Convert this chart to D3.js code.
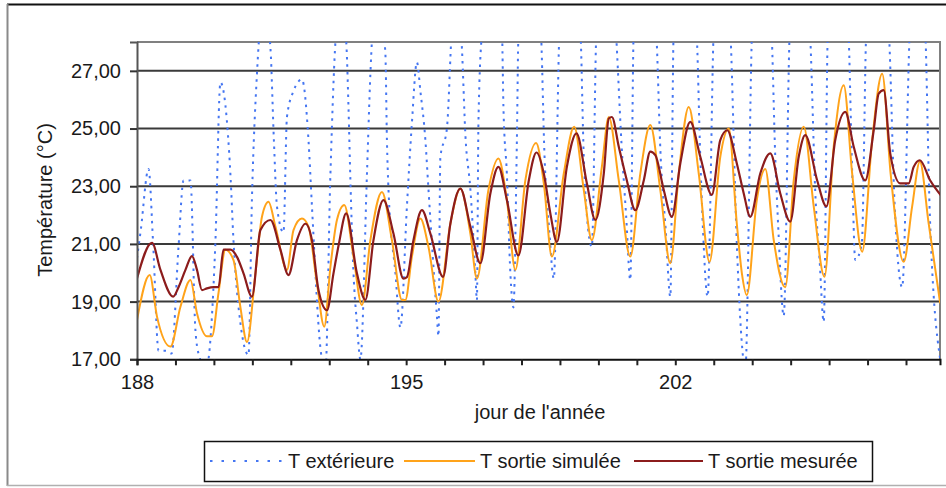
<!DOCTYPE html>
<html>
<head>
<meta charset="utf-8">
<script src="https://cdn.jsdelivr.net/npm/d3@7"></script>
<style>
  body { margin: 0; background: #fff; }
  svg text { font-family: "Liberation Sans", Arial, sans-serif; fill: #1a1a1a; }
</style>
</head>
<body>
<svg id="chart" width="946" height="488"></svg>
<script>
// tick labels
let yTicks = [17, 19, 21, 23, 25, 27];
let xLabels = [188, 195, 202];
let seriesNames = ["T extérieure", "T sortie simulée", "T sortie mesurée"];

// T extérieure (values outside 17..28 are clipped)
let extDays = [188.00, 188.10, 188.30, 188.42, 188.56, 188.75, 188.90, 189.08, 189.21, 189.39,
  189.52, 189.62, 189.80, 190.04, 190.17, 190.30, 190.43, 190.51, 190.69, 190.90,
  190.99, 191.12, 191.30, 191.47, 191.56, 191.64, 191.81, 191.90, 192.07, 192.29,
  192.46, 192.55, 192.77, 192.90, 193.03, 193.20, 193.35, 193.45, 193.50, 193.55,
  193.63, 193.72, 193.81, 193.98, 194.07, 194.25, 194.46, 194.50, 194.54, 194.72,
  194.85, 195.02, 195.15, 195.28, 195.37, 195.50, 195.58, 195.80, 195.84, 195.89,
  196.06, 196.19, 196.32, 196.45, 196.54, 196.67, 196.80, 196.84, 196.88, 196.97,
  197.25, 197.49, 197.53, 197.62, 197.71, 197.79, 197.88, 197.92, 198.20, 198.50,
  198.60, 198.72, 198.84, 198.99, 199.25, 199.53, 199.62, 199.70, 199.83, 199.95,
  200.20, 200.45, 200.60, 200.72, 200.83, 200.92, 201.20, 201.50, 201.62, 201.75,
  201.87, 201.96, 202.25, 202.55, 202.65, 202.72, 202.84, 203.00, 203.20, 203.43,
  203.60, 203.74, 203.82, 204.00, 204.25, 204.50, 204.60, 204.68, 204.82, 204.98,
  205.25, 205.50, 205.65, 205.75, 205.86, 205.97, 206.25, 206.50, 206.60, 206.68,
  206.85, 206.97, 207.25, 207.55, 207.70, 207.90, 208.10, 208.30, 208.50, 208.62,
  208.89];
let extTemps = [20.5, 21.5, 23.6, 21.0, 17.3, 17.3, 17.2, 20.9, 23.2, 23.2,
  18.0, 17.1, 16.7, 21.1, 26.6, 25.8, 23.4, 21.1, 18.25, 17.15,
  22.6, 26.9, 29.5, 27.8, 24.6, 22.3, 21.4, 25.4, 26.3, 26.7,
  24.6, 22.3, 17.4, 16.6, 23.4, 28.6, 29.2, 27.8, 25.75, 23.2,
  20.0, 18.25, 17.0, 23.4, 26.9, 30.0, 27.6, 24.6, 22.9, 20.0,
  18.1, 22.3, 25.2, 27.3, 26.3, 24.6, 22.9, 18.5, 17.8, 24.0,
  25.0, 28.5, 30.0, 27.8, 24.8, 22.9, 20.0, 19.05, 25.2, 28.3,
  31.0, 28.5, 25.75, 23.4, 20.0, 18.8, 24.6, 28.2, 31.5, 28.5,
  24.0, 21.5, 19.8, 28.5, 32.0, 28.5, 24.0, 22.0, 20.9, 28.5,
  32.0, 28.5, 24.5, 22.0, 19.75, 28.5, 32.0, 28.5, 24.0, 21.5,
  19.17, 28.5, 32.0, 28.5, 24.0, 21.5, 19.17, 28.5, 32.0, 28.5,
  21.0, 17.4, 16.6, 28.5, 32.0, 28.5, 24.0, 21.5, 18.5, 28.5,
  32.0, 28.5, 22.5, 20.5, 18.3, 28.5, 32.0, 28.5, 23.5, 20.44,
  21.0, 28.5, 32.0, 28.5, 22.5, 19.5, 28.5, 32.0, 28.5, 22.0,
  17.0];

// T sortie simulée
let simDays = [188.00, 188.33, 188.52, 188.87, 189.13, 189.39, 189.56, 189.82, 189.95, 190.12,
  190.30, 190.51, 190.69, 190.86, 191.08, 191.25, 191.42, 191.60, 191.90, 192.07,
  192.29, 192.46, 192.68, 192.87, 193.03, 193.20, 193.39, 193.63, 193.85, 194.07,
  194.37, 194.63, 194.89, 194.98, 195.15, 195.37, 195.58, 195.84, 196.15, 196.41,
  196.67, 196.84, 197.14, 197.40, 197.62, 197.84, 198.10, 198.38, 198.58, 198.79,
  199.10, 199.37, 199.62, 199.83, 200.09, 200.27, 200.53, 200.83, 201.09, 201.35,
  201.61, 201.87, 202.09, 202.35, 202.61, 202.89, 203.17, 203.39, 203.60, 203.73,
  203.86, 204.12, 204.34, 204.56, 204.86, 205.08, 205.34, 205.60, 205.88, 206.12,
  206.38, 206.60, 206.86, 207.12, 207.38, 207.60, 207.94, 208.16, 208.36, 208.59,
  208.89];
let simTemps = [18.36, 19.92, 18.48, 17.44, 18.82, 19.75, 18.6, 17.8, 17.8, 19.3,
  20.8, 20.44, 18.8, 17.6, 19.98, 21.94, 22.46, 21.6, 20.1, 21.48,
  21.88, 21.6, 19.63, 18.13, 20.2, 21.83, 22.35, 20.56, 18.88, 21.13,
  22.8, 21.13, 19.06, 19.06, 20.56, 21.88, 20.9, 19.0, 21.7, 22.92,
  21.36, 19.8, 22.87, 23.96, 22.52, 20.1, 23.2, 24.5, 23.1, 20.56,
  23.44, 25.06, 22.87, 21.13, 23.67, 25.4, 23.2, 20.56, 23.44, 25.12,
  22.87, 20.33, 23.44, 25.75, 23.44, 20.38, 24.02, 25.0, 21.7, 20.0,
  19.23, 22.52, 23.6, 21.13, 19.5, 23.2, 25.06, 22.3, 19.86, 24.37,
  26.5, 23.44, 20.73, 24.6, 26.9, 23.44, 20.38, 22.3, 23.85, 21.7,
  18.94];

// T sortie mesurée
let mesDays = [188.00, 188.39, 188.61, 188.94, 189.08, 189.26, 189.43, 189.56, 189.69, 189.82,
  189.99, 190.12, 190.25, 190.43, 190.60, 190.77, 190.99, 191.21, 191.47, 191.73,
  191.94, 192.16, 192.38, 192.55, 192.72, 192.94, 193.11, 193.25, 193.44, 193.72,
  193.94, 194.15, 194.41, 194.67, 194.93, 195.02, 195.19, 195.41, 195.63, 195.96,
  196.15, 196.41, 196.67, 196.93, 197.19, 197.40, 197.62, 197.92, 198.19, 198.39,
  198.58, 198.75, 198.92, 199.18, 199.43, 199.70, 199.92, 200.14, 200.27, 200.35,
  200.53, 200.74, 200.96, 201.18, 201.35, 201.48, 201.70, 201.91, 202.13, 202.39,
  202.65, 202.95, 203.17, 203.35, 203.60, 203.78, 203.95, 204.21, 204.47, 204.73,
  204.99, 205.21, 205.38, 205.69, 205.93, 206.16, 206.42, 206.64, 206.94, 207.16,
  207.29, 207.42, 207.59, 207.85, 208.07, 208.20, 208.36, 208.63, 208.94];
let mesTemps = [19.8, 21.04, 20.1, 19.17, 19.5, 20.1, 20.58, 20.1, 19.4, 19.46,
  19.5, 19.5, 20.8, 20.8, 20.55, 19.98, 19.17, 21.48, 21.83, 20.8,
  19.92, 21.13, 21.7, 21.13, 19.4, 18.7, 19.98, 21.0, 22.06, 19.98,
  19.06, 21.13, 22.52, 21.36, 19.8, 19.85, 21.13, 22.17, 21.36, 19.86,
  21.7, 22.92, 21.6, 20.33, 22.75, 23.67, 22.52, 20.6, 23.2, 24.17,
  23.44, 22.06, 21.07, 23.67, 24.83, 23.1, 21.83, 23.44, 25.35, 25.4,
  24.37, 23.2, 22.17, 23.2, 24.2, 24.08, 22.87, 21.94, 23.79, 25.23,
  24.02, 22.7, 24.6, 24.94, 23.79, 22.75, 21.94, 23.44, 24.14, 22.75,
  21.77, 24.02, 24.77, 23.2, 22.3, 24.6, 25.58, 24.37, 23.2, 24.94,
  26.21, 26.33, 24.14, 23.1, 23.1, 23.67, 23.9, 23.2, 22.63];

let colors = ["#4576f2", "#ffa31a", "#8c1c1c"];

let plotLeft = 137, plotRight = 940, plotTop = 42, plotBottom = 359.3;
let fontSize = 20;

let x = d3.scaleLinear()
    .domain([188, 188 + (plotRight - plotLeft) / 38.45])
    .range([plotLeft, plotRight]);

let y = d3.scaleLinear()
    .domain([17, 28])
    .range([plotBottom, plotTop]);

let svg = d3.select("#chart");

// outer frame of the chart object
svg.append("line").attr("x1", 7).attr("x2", 946).attr("y1", 4.5).attr("y2", 4.5)
    .attr("stroke", "#111").attr("stroke-width", 2);
svg.append("line").attr("x1", 7.5).attr("x2", 7.5).attr("y1", 4).attr("y2", 486)
    .attr("stroke", "#8a8a8a").attr("stroke-width", 2);
svg.append("line").attr("x1", 7).attr("x2", 946).attr("y1", 485.5).attr("y2", 485.5)
    .attr("stroke", "#b0b0b0").attr("stroke-width", 1.5);

// horizontal grid
svg.append("g")
  .selectAll("line")
  .data(yTicks.filter((d) => d > 17))
  .enter().append("line")
    .attr("x1", plotLeft).attr("x2", plotRight)
    .attr("y1", (d) => y(d)).attr("y2", (d) => y(d))
    .attr("stroke", "#3a3a3a")
    .attr("stroke-width", 2);

// plot border (top / right)
svg.append("path")
    .attr("d", `M${plotLeft},${plotTop}H${plotRight}V${plotBottom}`)
    .attr("fill", "none")
    .attr("stroke", "#808080")
    .attr("stroke-width", 2);

svg.append("clipPath").attr("id", "clip")
  .append("rect")
    .attr("x", plotLeft).attr("y", plotTop)
    .attr("width", plotRight - plotLeft).attr("height", plotBottom - plotTop);

let line = d3.line()
    .x((d) => x(d[0]))
    .y((d) => y(d[1]))
    .curve(d3.curveMonotoneX);

let series = [
  { days: extDays, temps: extTemps, dash: "2.5,5", width: 2 },
  { days: simDays, temps: simTemps, dash: null, width: 2 },
  { days: mesDays, temps: mesTemps, dash: null, width: 2.2 }
];

let lines = svg.append("g").attr("clip-path", "url(#clip)");

series.forEach((s, i) => {
  lines.append("path")
      .datum(d3.zip(s.days, s.temps))
      .attr("d", line)
      .attr("fill", "none")
      .attr("stroke", colors[i])
      .attr("stroke-width", s.width)
      .attr("stroke-dasharray", s.dash)
      .attr("stroke-linejoin", "round");
});

// y axis
let yAxis = svg.append("g")
    .attr("transform", `translate(${plotLeft},0)`)
    .call(d3.axisLeft(y)
      .tickValues(yTicks)
      .tickSize(7)
      .tickPadding(9)
      .tickFormat((d) => d3.format(".2f")(d).replace(".", ",")));

yAxis.select(".domain").attr("stroke", "#555").attr("stroke-width", 2);
yAxis.selectAll(".tick line").attr("stroke", "#333").attr("stroke-width", 2);
yAxis.selectAll(".tick text")
    .attr("font-size", fontSize)
    .style("font-family", "'Liberation Sans', Arial, sans-serif");

// x axis
let xAxis = svg.append("g")
    .attr("transform", `translate(0,${plotBottom})`)
    .call(d3.axisBottom(x)
      .tickValues(d3.range(188, 209))
      .tickSize(6)
      .tickPadding(10)
      .tickFormat((d) => xLabels.includes(d) ? d : ""));

xAxis.select(".domain").attr("stroke", "#111").attr("stroke-width", 2);
xAxis.selectAll(".tick line").attr("stroke", "#222").attr("stroke-width", 2);
xAxis.selectAll(".tick text")
    .attr("font-size", fontSize)
    .style("font-family", "'Liberation Sans', Arial, sans-serif");

// axis titles
svg.append("text")
    .attr("transform", "translate(52,200) rotate(-90)")
    .attr("text-anchor", "middle")
    .attr("font-size", fontSize)
    .text("Température (°C)");

svg.append("text")
    .attr("x", 540)
    .attr("y", 419)
    .attr("text-anchor", "middle")
    .attr("font-size", fontSize)
    .text("jour de l'année");

// legend
let legend = svg.append("g");

legend.append("rect")
    .attr("x", 204.5).attr("y", 441.5)
    .attr("width", 668).attr("height", 40)
    .attr("fill", "#fff")
    .attr("stroke", "#111")
    .attr("stroke-width", 1.5);

let legendX = [[210, 283], [404, 475], [634, 703]];

seriesNames.forEach((name, i) => {
  legend.append("line")
      .attr("x1", legendX[i][0]).attr("x2", legendX[i][1])
      .attr("y1", 461).attr("y2", 461)
      .attr("stroke", colors[i])
      .attr("stroke-width", 2)
      .attr("stroke-dasharray", i === 0 ? "2.5,9" : null);
  legend.append("text")
      .attr("x", legendX[i][1] + 5)
      .attr("y", 468)
      .attr("font-size", fontSize)
      .text(name);
});
</script>
</body>
</html>
